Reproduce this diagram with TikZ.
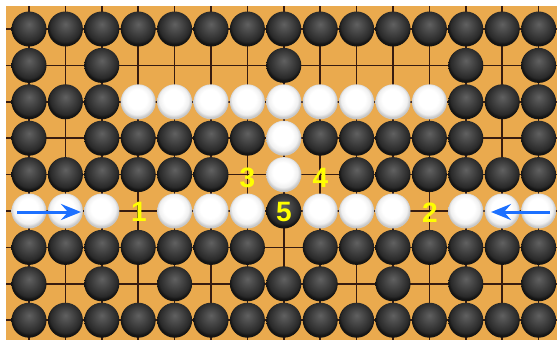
\documentclass[tikz,border=0pt]{standalone}
\usepackage{fontspec}
\setmainfont{Liberation Sans}
\usetikzlibrary{arrows.meta}
\definecolor{boardcol}{RGB}{234,170,78}
\definecolor{gridcol}{RGB}{55,28,16}
\definecolor{arrowblue}{RGB}{28,112,255}
\definecolor{labelyellow}{RGB}{255,255,0}
\pgfdeclareradialshading{bstoneshade}{\pgfpoint{0bp}{7bp}}{color(0bp)=(black!62); color(12bp)=(black!74); color(22bp)=(black!84); color(25bp)=(black!92); color(50bp)=(black!92)}
\pgfdeclareradialshading{wstoneshade}{\pgfpoint{-2bp}{5bp}}{color(0bp)=(white); color(14bp)=(white); color(21bp)=(black!6); color(25bp)=(black!22); color(50bp)=(black!22)}
\tikzset{
  bstone/.style={circle,draw=none,minimum size=35pt,inner sep=0pt,shading=bstoneshade},
  wstone/.style={circle,draw=none,minimum size=35pt,inner sep=0pt,shading=wstoneshade},
  numlabel/.style={inner sep=0pt,text=labelyellow,font=\fontsize{28}{28}\selectfont\bfseries,text height=20pt,text depth=0pt},
  movearrow/.style={draw=arrowblue,line width=3pt,-{Stealth[length=20pt,width=16pt,inset=7pt]}},
  gridline/.style={draw=gridcol,line width=1.5pt}
}
\begin{document}
\begin{tikzpicture}[x=1pt,y=-1pt]
\useasboundingbox (0,0) rectangle (557,341);
\fill[white] (0,0) rectangle (557,341);
\fill[boardcol] (6,6) rectangle (557,340);
% grid
\foreach \c in {0,...,14}
  \draw[gridline] ({29+36.4*\c},6) -- ({29+36.4*\c},340);
\foreach \r in {0,...,8}
  \draw[gridline] (6,{29+36.4*\r}) -- (557,{29+36.4*\r});
% black stones
\foreach \r/\cs in {0/{0,1,2,3,4,5,6,7,8,9,10,11,12,13,14},
                    1/{0,2,7,12,14},
                    2/{0,1,2,12,13,14},
                    3/{0,2,3,4,5,6,8,9,10,11,12,14},
                    4/{0,1,2,3,4,5,9,10,11,12,13,14},
                    5/{7},
                    6/{0,1,2,3,4,5,6,8,9,10,11,12,13,14},
                    7/{0,2,4,6,7,8,10,12,14},
                    8/{0,1,2,3,4,5,6,7,8,9,10,11,12,13,14}}
  \foreach \c in \cs
    \node[bstone] (b\r-\c) at ({29+36.4*\c},{29+36.4*\r}) {};
% white stones
\foreach \r/\cs in {2/{3,4,5,6,7,8,9,10,11},
                    3/{7},
                    4/{7},
                    5/{0,1,2,4,5,6,8,9,10,12,13,14}}
  \foreach \c in \cs
    \node[wstone] (w\r-\c) at ({29+36.4*\c},{29+36.4*\r}) {};
% labels
\node[numlabel] (n1) at (139,211.5) {1};
\node[numlabel] (n2) at (430,212) {2};
\node[numlabel] (n3) at (247.5,177) {3};
\node[numlabel] (n4) at (320.5,177) {4};
\node[numlabel] (n5) at (284,211.5) {5};
% arrows
\coordinate (la) at (17,212);
\coordinate (lb) at (81,212);
\coordinate (ra) at (550,212);
\coordinate (rb) at (491,212);
\draw[movearrow] (la) -- (lb);
\draw[movearrow] (ra) -- (rb);
\end{tikzpicture}
\end{document}
